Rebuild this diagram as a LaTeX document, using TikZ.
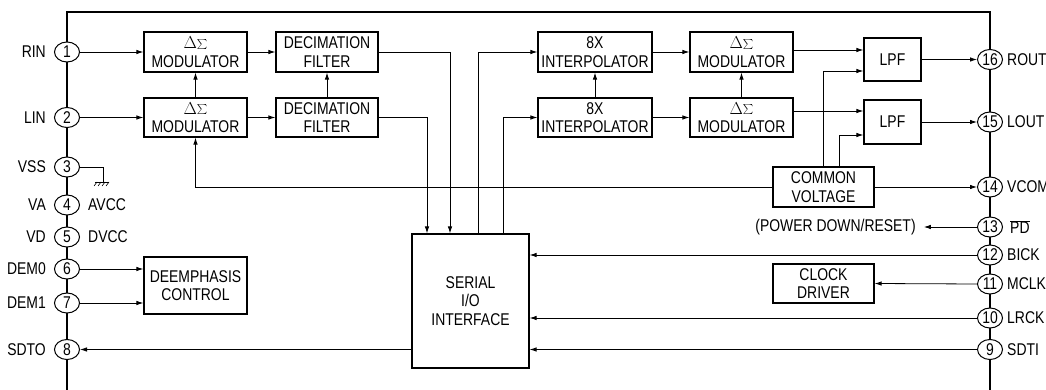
\documentclass[tikz,border=0pt]{standalone}
\usepackage{fontspec}
\setmainfont{Liberation Sans}[FakeStretch=0.82]
\usepackage{xcolor}
\usetikzlibrary{arrows.meta,positioning,shapes.geometric,calc}

\newcommand{\dsig}{{\fontsize{19}{18.5}\selectfont$\Delta\mathord{\sum}$}}

\begin{document}
\begin{tikzpicture}[x=1pt, y=-1pt,
font=\fontsize{17}{18.5}\selectfont,
blk/.style={draw, line width=1.2pt, align=center, inner sep=0pt, fill=white},
pad/.style={draw, ellipse, line width=1pt, minimum width=25pt, minimum height=20pt, inner sep=0pt, fill=white},
lbl/.style={inner sep=0pt},
frame/.style={line width=2pt},
wire/.style={line width=0.8pt},
arr/.style={-{Latex[length=7pt,width=4.5pt]}, line width=0.8pt}
]
\useasboundingbox (0,0) rectangle (1046,390);
\draw[frame] (67,390) -- (67,12) -- (990,12) -- (990,390);

\node[blk, minimum width=103, minimum height=40] (mod1) at (195.5,52) {\dsig\\MODULATOR};
\node[blk, minimum width=103, minimum height=39] (mod2) at (195.5,117.5) {\dsig\\MODULATOR};
\node[blk, minimum width=102, minimum height=40] (dec1) at (327,52) {DECIMATION\\FILTER};
\node[blk, minimum width=102, minimum height=39] (dec2) at (327,117.5) {DECIMATION\\FILTER};
\node[blk, minimum width=117, minimum height=134] (sio) at (470.5,301) {SERIAL\\I/O\\INTERFACE};
\node[blk, minimum width=114, minimum height=40] (int1) at (595,52) {8X\\INTERPOLATOR};
\node[blk, minimum width=114, minimum height=39] (int2) at (595,117.5) {8X\\INTERPOLATOR};
\node[blk, minimum width=103, minimum height=40] (dsm1) at (741.5,52) {\dsig\\MODULATOR};
\node[blk, minimum width=103, minimum height=39] (dsm2) at (741.5,117.5) {\dsig\\MODULATOR};
\node[blk, minimum width=57, minimum height=43] (lpf1) at (892.5,59.5) {LPF};
\node[blk, minimum width=57, minimum height=44] (lpf2) at (892.5,122) {LPF};
\node[blk, minimum width=101, minimum height=40] (com) at (823.5,187) {COMMON\\VOLTAGE};
\node[blk, minimum width=101, minimum height=39] (clk) at (823.5,283.5) {CLOCK\\DRIVER};
\node[blk, minimum width=103, minimum height=57] (dem) at (195.5,285.5) {DEEMPHASIS\\CONTROL};

\node[pad] (p1) at (67,52) {1};
\node[pad] (p2) at (67,117.5) {2};
\node[pad] (p3) at (67,167) {3};
\node[pad] (p4) at (67,205) {4};
\node[pad] (p5) at (67,237) {5};
\node[pad] (p6) at (67,269) {6};
\node[pad] (p7) at (67,303) {7};
\node[pad] (p8) at (67,349.5) {8};
\node[pad] (p16) at (990,59.5) {16};
\node[pad] (p15) at (990,122) {15};
\node[pad] (p14) at (990,187) {14};
\node[pad] (p13) at (990,227) {13};
\node[pad] (p12) at (990,255) {12};
\node[pad] (p11) at (990,284) {11};
\node[pad] (p10) at (990,318) {10};
\node[pad] (p9) at (990,349.5) {9};

\node[lbl, left=8pt of p1] (rin) {RIN};
\node[lbl, left=8pt of p2] (lin) {LIN};
\node[lbl, left=8pt of p3] (vss) {VSS};
\node[lbl, left=8pt of p4] (va) {VA};
\node[lbl, left=8pt of p5] (vd) {VD};
\node[lbl, left=8pt of p6] (dem0) {DEM0};
\node[lbl, left=8pt of p7] (dem1) {DEM1};
\node[lbl, left=8pt of p8] (sdto) {SDTO};
\node[lbl, right=8pt of p4] (avcc) {AVCC};
\node[lbl, right=8pt of p5] (dvcc) {DVCC};
\node[lbl, right=4pt of p16] (rout) {ROUT};
\node[lbl, right=4pt of p15] (lout) {LOUT};
\node[lbl, right=4pt of p14] (vcom) {VCOM};
\node[lbl, right=7pt of p13] (pd) {$\overline{\mbox{PD}}$};
\node[lbl, right=4pt of p12] (bick) {BICK};
\node[lbl, right=4pt of p11] (mclk) {MCLK};
\node[lbl, right=4pt of p10] (lrck) {LRCK};
\node[lbl, right=4pt of p9] (sdti) {SDTI};
\node[lbl] (pdtxt) at (835.5,227) {(POWER DOWN/RESET)};

\draw[arr] (p1) -- (mod1);
\draw[arr] (p2) -- (mod2);
\draw[arr] (mod2) -- (mod1);
\draw[arr] (mod1) -- (dec1);
\draw[arr] (mod2) -- (dec2);
\draw[arr] (dec2) -- (dec1);
\draw[arr] (dec1.east) -| ([xshift=-20.5]sio.north);
\draw[arr] (dec2.east) -| ([xshift=-43.5]sio.north);
\draw[arr] ([xshift=7.5]sio.north) |- (int1.west);
\draw[arr] ([xshift=32.5]sio.north) |- (int2.west);
\draw[arr] (int2) -- (int1);
\draw[arr] (int1) -- (dsm1);
\draw[arr] (int2) -- (dsm2);
\draw[arr] (dsm2) -- (dsm1);

\coordinate (l1a) at ([yshift=9.5]lpf1.west);
\coordinate (l1b) at ([yshift=-11.5]lpf1.west);
\coordinate (l2a) at ([yshift=11]lpf2.west);
\coordinate (l2b) at ([yshift=-13]lpf2.west);
\draw[arr] (dsm1.east |- l1a) -- (l1a);
\draw[arr] (dsm2.east |- l2a) -- (l2a);
\draw[arr] ([xshift=-0.5]com.north) |- (l1b);
\draw[arr] ([xshift=15.5]com.north) |- (l2b);
\draw[arr] (lpf1) -- (p16);
\draw[arr] (lpf2) -- (p15);
\draw[arr] (com) -- (p14);
\draw[arr] (com.west) -| (mod2.south);
\draw[arr] (p13.west) -- ([xshift=8]pdtxt.east);

\draw[arr] (p12.west) -- (sio.east |- p12);
\draw[arr] (p11.west) -- (clk.east);
\draw[arr] (p10.west) -- (sio.east |- p10);
\draw[arr] (p9.west) -- (sio.east |- p9);
\draw[arr] (sio.west |- p8) -- (p8.east);
\draw[arr] (p6.east) -- (dem.west |- p6);
\draw[arr] (p7.east) -- (dem.west |- p7);

\coordinate (gnd) at (103,182);
\draw[wire] (p3.east) -| (gnd);
\draw[wire] ([xshift=-8]gnd) -- ([xshift=6]gnd);
\foreach \dx in {-6,-2,2,6}
  \draw[line width=0.6pt] ([xshift=\dx]gnd) -- ++(-3,4);
\end{tikzpicture}
\end{document}
